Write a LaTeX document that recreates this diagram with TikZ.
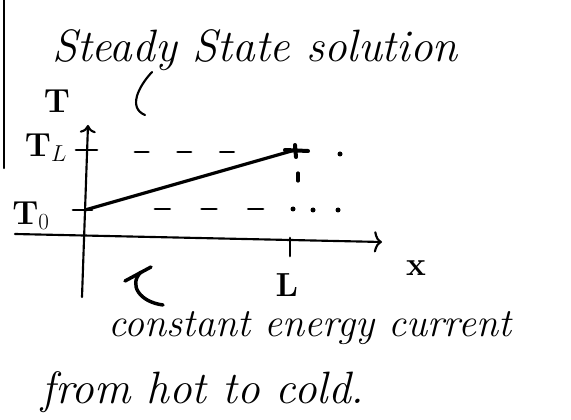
\documentclass[tikz,border=0pt]{standalone}
\usepackage{fontspec}
\setmainfont{Latin Modern Roman}
\usetikzlibrary{arrows.meta}
\begin{document}
\begin{tikzpicture}[x=0.75pt,y=-0.75pt,
  ink/.style={line width=2pt,line cap=round,line join=round},
  axisline/.style={line width=1.6pt,line cap=round},
  dashes/.style={line width=2.2pt,line cap=round,dash pattern=on 10pt off 22pt},
  hand/.style={font=\itshape\fontsize{34}{38}\selectfont,inner sep=0pt},
  lbl/.style={font=\fontsize{25}{28}\selectfont\bfseries,inner sep=0pt}]
\useasboundingbox (0,0) rectangle (571,420);
% left bracket line
\coordinate (b1) at (4,0); \coordinate (b2) at (4,168);
\draw[axisline] (b1) -- (b2);
% title
\node[hand] (title) at (255,50) {Steady State solution};
\coordinate (c1) at (152,72); \coordinate (c2) at (145,115);
\draw[ink,line width=1.6pt] (c1) .. controls (138,87) and (128,108) .. (c2);
% axis labels
\node[lbl] (T) at (57,101) {T};
\node[lbl] (TL) at (46,148) {T$_L$};
\node[lbl] (T0) at (31,216) {T$_0$};
\node[lbl] (x) at (416,268) {x};
\node[lbl] (L) at (287,285) {L};
% axes
\coordinate (ybot) at (82,297); \coordinate (ytop) at (88,125);
\coordinate (xl) at (15,234); \coordinate (xr) at (382,242);
\draw[axisline,-{To[length=6pt,width=12pt]}] (ybot) -- (ytop);
\draw[axisline,-{To[length=6pt,width=16pt]}] (xl) -- (xr);
% ticks
\coordinate (tl1) at (76,150); \coordinate (tl2) at (97,150);
\draw[ink] (tl1) -- (tl2);
\coordinate (t01) at (73,210); \coordinate (t02) at (92,210);
\draw[ink] (t01) -- (t02);
\coordinate (lt1) at (290,238); \coordinate (lt2) at (290,256);
\draw[ink] (lt1) -- (lt2);
% solution line
\coordinate (A) at (85,210); \coordinate (B) at (295,150);
\draw[ink,line width=2.4pt] (A) -- (B);
\coordinate (B1) at (285,150); \coordinate (B2) at (308,151);
\coordinate (B3) at (295,145); \coordinate (B4) at (296,157);
\draw[ink,line width=3pt] (B1) -- (B2) (B3) -- (B4);
% dashed levels
\coordinate (dl1) at (135,152); \coordinate (dl2) at (240,152);
\draw[dashes] (dl1) -- (dl2);
\coordinate (dot1) at (340,154);
\fill (dot1) circle (2.5);
\coordinate (d01) at (155,209); \coordinate (d02) at (272,209);
\draw[dashes,dash pattern=on 11pt off 24pt] (d01) -- (d02);
\coordinate (dot2) at (293,209); \coordinate (dot3) at (313,210); \coordinate (dot4) at (338,210);
\fill (dot2) circle (2.5) (dot3) circle (2.5) (dot4) circle (2.5);
\coordinate (v1) at (298,173); \coordinate (v2) at (298,181);
\draw[ink,line width=2.4pt] (v1) -- (v2);
% hook mark below axis
\coordinate (h1) at (125,281); \coordinate (h2) at (151,267);
\draw[ink,line width=2.6pt] (h1) -- (h2);
\coordinate (h3) at (141,272); \coordinate (h4) at (163,305);
\draw[ink,line width=2.6pt] (h3) .. controls (128,285) and (140,302) .. (h4);
% bottom text
\node[hand,font=\itshape\fontsize{30}{34}\selectfont] (t1) at (310,328) {constant energy current};
\node[hand] (t2) at (203,392) {from hot to cold.};
\end{tikzpicture}
\end{document}
